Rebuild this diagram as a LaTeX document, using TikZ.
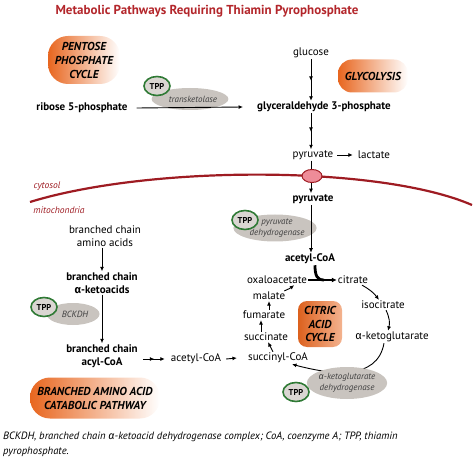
\documentclass[tikz,border=0pt]{standalone}
\usepackage{fontspec}
\setmainfont{PT Sans}
\newfontfamily\grk{Fira Sans}
\usetikzlibrary{arrows.meta,shapes.geometric,decorations.markings,calc}
\definecolor{titlered}{HTML}{B3262B}
\definecolor{memred}{HTML}{9E1B22}
\definecolor{tppgreen}{HTML}{2F7A35}
\definecolor{tppfill}{HTML}{DAD6D2}
\definecolor{enzgray}{HTML}{C9C4BF}
\definecolor{blobor}{HTML}{E8661F}
\definecolor{chanpink}{HTML}{EE8C98}
\newcommand{\al}{{\grk α}}
\begin{document}
\begin{tikzpicture}[x=1pt,y=-1pt,
  lbl/.style={font=\fontsize{11}{13}\selectfont, inner sep=1pt, align=center},
  blbl/.style={font=\fontsize{11}{13}\selectfont\bfseries, inner sep=1pt, align=center},
  arr/.style={-{Latex[length=4.5pt,width=4pt]}, line width=0.9pt},
  multi/.style={arr, postaction={decorate}, decoration={markings, mark=at position 0.52 with {\arrow{Latex[length=4.5pt,width=4pt]}}}},
  tpp/.style={ellipse, draw=tppgreen, line width=1.6pt, fill=tppfill, minimum width=26pt, minimum height=19pt, inner sep=0pt, font=\fontsize{8.5}{9}\selectfont\bfseries},
  enz/.style={ellipse, fill=enzgray, inner sep=0pt, font=\fontsize{9}{11}\selectfont\itshape, text=black!75, align=center},
  blob/.style={rounded corners=20pt, left color=blobor, right color=white, inner sep=0pt, align=center, font=\fontsize{11.5}{14}\selectfont\bfseries\itshape},
  memlbl/.style={font=\fontsize{9.5}{10}\selectfont\itshape, text=memred, inner sep=0pt}
]
\useasboundingbox (0,0) rectangle (474,465);

\node[font=\fontsize{13}{15}\selectfont\bfseries, text=titlered] (title) at (207,11) {Metabolic Pathways Requiring Thiamin Pyrophosphate};

% pentose phosphate
\node[blob, minimum width=72pt, minimum height=48pt] (ppc) at (84,60) {PENTOSE\\PHOSPHATE\\CYCLE};
\node[blbl] (r5p) at (82,108) {ribose 5-phosphate};
\node[enz, minimum width=66pt, minimum height=22pt] (tk) at (190,99) {\hspace*{6pt}transketolase};
\node[tpp] (tpp1) at (157,86) {TPP};

% glycolysis
\node[lbl] (glucose) at (311,53) {glucose};
\node[blob, rounded corners=14pt, minimum width=70pt, minimum height=33pt] (glyc) at (373,76) {GLYCOLYSIS};
\node[blbl] (g3p) at (324,107) {glyceraldehyde 3-phosphate};
\node[lbl] (pyr1) at (313,155) {pyruvate};
\node[lbl] (lac) at (374,155) {lactate};

\draw[arr] ([xshift=8pt]r5p.east) -- ([xshift=-13pt]g3p.west);
\draw[multi] (glucose.south) -- (glucose.south |- g3p.north);
\draw[multi] (g3p.south -| glucose.south) -- (glucose.south |- pyr1.north);
\draw[arr] ([xshift=3pt]pyr1.east) -- ([xshift=-4pt]lac.west);

% membrane
\node[memlbl] (cyt) at (47,186) {cytosol};
\node[memlbl] (mito) at (59,210) {mitochondria};
\node[blbl] (pyr2) at (313,199) {pyruvate};
\draw[arr] (glucose.south |- pyr1.south) -- (glucose.south |- pyr2.north);
\draw[memred, line width=2.2pt] (30,202) .. controls (150,165) and (380,165) .. (472,205);
\node[ellipse, draw=memred, fill=chanpink, line width=1pt, minimum width=20pt, minimum height=13pt, inner sep=0pt] (chan) at (312,176) {};

% pyruvate dehydrogenase
\node[enz, minimum width=66pt, minimum height=27pt] (pdh) at (275,228) {\hspace*{4pt}pyruvate\\\hspace*{4pt}dehydrogenase};
\node[tpp] (tpp2) at (245,220) {TPP};
\node[blbl] (acoa) at (310,259) {acetyl-CoA};
\draw[arr] (glucose.south |- pyr2.south) -- (glucose.south |- acoa.north);

% citric acid cycle
\node[rounded corners=9pt, left color=blobor!95!black, right color=blobor!50!white, minimum width=44pt, minimum height=46pt, inner sep=0pt, align=center, font=\fontsize{11.5}{13.5}\selectfont\bfseries\itshape] (cac) at (320,324) {CITRIC\\ACID\\CYCLE};
\node[lbl] (oaa) at (277,280) {oxaloacetate};
\node[lbl] (cit) at (353,280) {citrate};
\node[lbl] (iso) at (383,305) {isocitrate};
\node[lbl] (akg) at (392,337) {\al-ketoglutarate};
\node[lbl] (scoa) at (278,358) {succinyl-CoA};
\node[lbl] (succ) at (266,337) {succinate};
\node[lbl] (fum) at (264,315) {fumarate};
\node[lbl] (mal) at (269,296) {malate};

\coordinate (junc) at ($(oaa.east)!0.55!(cit.west)$);
\draw[line width=2pt, -{Latex[length=5pt,width=5pt]}] (oaa.east) -- (cit.west);
\draw[line width=2.8pt] ([xshift=5pt]acoa.south) .. controls +(0,10) and +(-7,0) .. (junc);
\draw[arr] ([xshift=9pt]cit.south) to[bend left=12] ([xshift=-4pt]iso.north);
\draw[arr] ([xshift=3pt]iso.south) to[bend left=20] ([xshift=-4pt]akg.north);
\draw[arr] ([xshift=-8pt]akg.south) to[out=-100,in=-15, looseness=1.05] ([xshift=14pt]scoa.south);
\draw[arr] ([xshift=-5pt]scoa.north) -- ([xshift=2pt]succ.south);
\draw[arr] ([xshift=-5pt]succ.north) -- ([xshift=-3pt]fum.south);
\draw[arr] ([xshift=5pt]fum.north) -- (mal.south);
\draw[arr] ([xshift=-2pt]mal.north east) to[bend right=8] ([xshift=-14pt]oaa.south east);

\node[enz, minimum width=78pt, minimum height=32pt] (akgdh) at (347,383) {\al-ketoglutarate\\dehydrogenase};
\node[tpp] (tpp3) at (296,392) {TPP};

% branched chain
\node[lbl] (bcaa) at (105,236) {branched chain\\amino acids};
\node[blbl] (bcka) at (102,283) {branched chain\\\al-ketoacids};
\node[blbl] (bcacoa) at (102,356) {branched chain\\acyl-CoA};
\node[lbl] (acoa2) at (196,359) {acetyl-CoA};
\node[enz, minimum width=53pt, minimum height=22pt] (bckdh) at (73,314) {\hspace*{4pt}BCKDH};
\node[tpp] (tpp4) at (44,307) {TPP};
\draw[arr] (bcaa.south -| bcka.north) -- (bcka.north);
\draw[arr] (bcka.south) -- (bcacoa.north);
\draw[multi] ([xshift=4pt]bcacoa.east |- acoa2.west) -- ([xshift=-5pt]acoa2.west);
\draw[arr] ([xshift=4pt]acoa2.east) -- ([xshift=-10pt]scoa.west);

\node[blob, rounded corners=20pt, minimum width=130pt, minimum height=41pt] (bacp) at (95,398) {BRANCHED AMINO ACID\\CATABOLIC PATHWAY};

% caption
\node[anchor=north west, align=left, inner sep=0pt, font=\fontsize{10.6}{15}\selectfont\itshape] (cap) at (3,432) {BCKDH, branched chain \al-ketoacid dehydrogenase complex; CoA, coenzyme A; TPP, thiamin\\pyrophosphate.};
\end{tikzpicture}
\end{document}
